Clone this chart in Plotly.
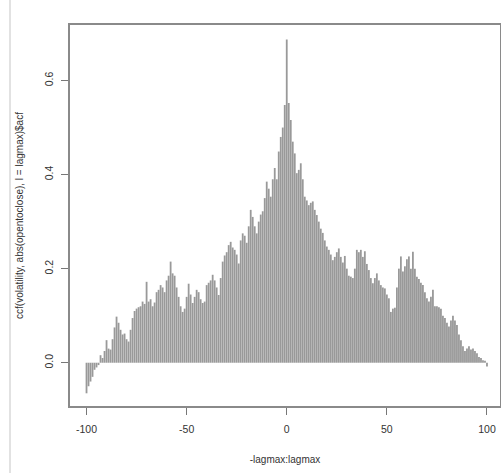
import plotly.graph_objects as go

lags = list(range(-100, 101))

acf_neg = [
    -0.065, -0.05, -0.04, -0.03, -0.015, -0.01, -0.005, 0.016, 0.01, 0.025,
    0.048, 0.03, 0.028, 0.05, 0.075, 0.098, 0.085, 0.07, 0.06, 0.062,
    0.05, 0.045, 0.07, 0.095, 0.11, 0.115, 0.118, 0.12, 0.13, 0.125,
    0.172, 0.13, 0.135, 0.12, 0.128, 0.15, 0.155, 0.165, 0.16, 0.15,
    0.175, 0.185, 0.215, 0.19, 0.185, 0.16, 0.14, 0.12, 0.108, 0.115,
    0.14, 0.168, 0.145, 0.127, 0.14, 0.155, 0.15, 0.135, 0.127, 0.13,
    0.165, 0.17, 0.175, 0.187, 0.175, 0.16, 0.144, 0.18, 0.215, 0.228,
    0.235, 0.25, 0.257, 0.245, 0.24, 0.23, 0.211, 0.26, 0.275, 0.27,
    0.255, 0.29, 0.325, 0.31, 0.29, 0.275, 0.30, 0.315, 0.322, 0.35,
    0.385, 0.37, 0.353, 0.39, 0.414, 0.39, 0.449, 0.48, 0.5, 0.548,
]
acf_pos = [
    0.687, 0.552, 0.516, 0.47, 0.445, 0.403, 0.41, 0.424, 0.39, 0.353,
    0.345, 0.335, 0.34, 0.343, 0.325, 0.314, 0.3, 0.285, 0.276, 0.26,
    0.247, 0.24, 0.23, 0.218, 0.225, 0.235, 0.243, 0.225, 0.213, 0.227,
    0.2, 0.185, 0.183, 0.18, 0.2, 0.24, 0.235, 0.24, 0.225, 0.237,
    0.21, 0.197, 0.18, 0.169, 0.18, 0.19, 0.175, 0.165, 0.16, 0.158,
    0.145, 0.137, 0.108, 0.115, 0.117, 0.16, 0.2, 0.226, 0.194, 0.205,
    0.22, 0.226, 0.2, 0.236, 0.2, 0.183, 0.178, 0.17, 0.165, 0.15,
    0.137, 0.13, 0.14, 0.155, 0.12, 0.12, 0.118, 0.115, 0.1, 0.095,
    0.085, 0.077, 0.09, 0.1, 0.09, 0.08, 0.06, 0.048, 0.035, 0.025,
    0.03, 0.035, 0.028, 0.03, 0.025, 0.02, 0.012, 0.01, 0.005, 0.004,
    -0.008,
]
acf = acf_neg + acf_pos

x_ticks = [-100, -50, 0, 50, 100]
x_tick_labels = ["-100", "-50", "0", "50", "100"]
y_ticks = [0.0, 0.2, 0.4, 0.6]
y_tick_labels = ["0.0", "0.2", "0.4", "0.6"]

x_label = "-lagmax:lagmax"
y_label = "ccf(volatility, abs(opentoclose), l = lagmax)$acf"

FONT = "Liberation Sans, Arial, Helvetica, sans-serif"

# type="h" style vertical segments, built from the data arrays
seg_x, seg_y = [], []
for lag, v in zip(lags, acf):
    seg_x += [lag, lag, None]
    seg_y += [0, v, None]

fig = go.Figure()
fig.add_trace(go.Scatter(
    x=seg_x, y=seg_y, mode="lines",
    line=dict(color="#999999", width=1.8),
    showlegend=False, hoverinfo="skip",
))

fig.update_layout(
    width=501, height=473,
    margin=dict(l=70, r=1, t=25, b=67, autoexpand=False),
    paper_bgcolor="white", plot_bgcolor="white",
    font=dict(family=FONT, size=10, color="#333333"),
    xaxis=dict(
        range=[-108.25, 106.5],
        tickmode="array", tickvals=x_ticks, ticktext=x_tick_labels,
        ticks="outside", ticklen=7, tickcolor="#777777", tickwidth=1.2,
        ticklabelstandoff=6,
        showline=True, linecolor="#8a8a8a", linewidth=1.6, mirror=True,
        showgrid=False, zeroline=False, automargin=False,
        tickfont=dict(size=10.5, color="#333333"),
        title=dict(text=x_label, font=dict(size=10, color="#333333"), standoff=22),
    ),
    yaxis=dict(
        range=[-0.092, 0.718],
        tickmode="array", tickvals=y_ticks, ticktext=y_tick_labels,
        ticks="outside", ticklen=7, tickcolor="#777777", tickwidth=1.2,
        tickangle=-90, ticklabelstandoff=4,
        showline=True, linecolor="#8a8a8a", linewidth=1.6, mirror=True,
        showgrid=False, zeroline=False, automargin=False,
        tickfont=dict(size=10.5, color="#333333"),
        title=dict(text=y_label, font=dict(size=10, color="#333333"), standoff=18),
    ),
    shapes=[dict(
        type="line", xref="paper", yref="paper",
        x0=(10 - 70) / 430, x1=(10 - 70) / 430, y0=-67 / 381, y1=(381 + 25) / 381,
        line=dict(color="#e2e2e2", width=2),
    )],
)

fig.write_html(
    "out.html",
    config={"displayModeBar": False},
    post_script="document.body.style.margin='0';document.body.style.overflow='hidden';",
)
